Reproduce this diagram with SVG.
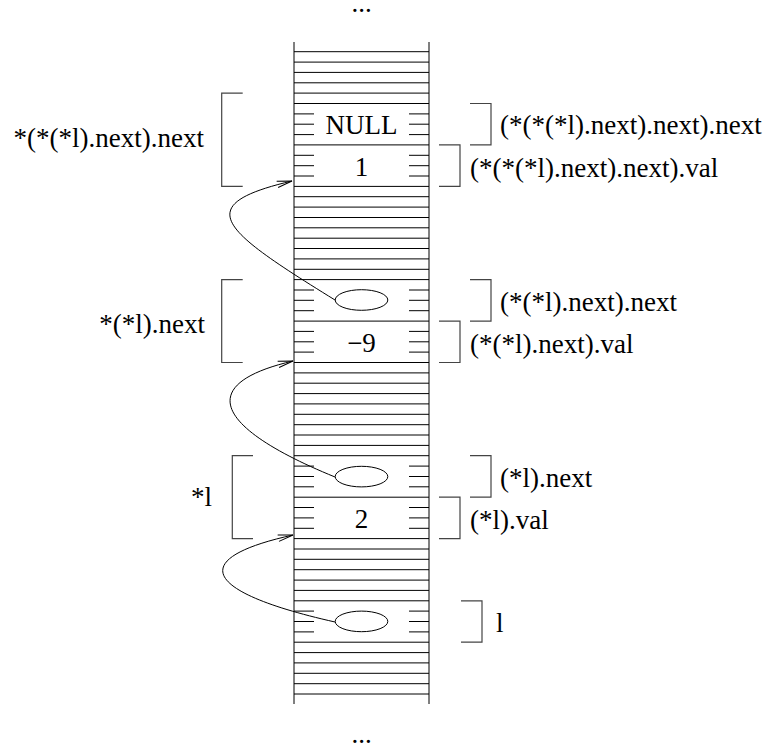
<svg xmlns="http://www.w3.org/2000/svg" width="781" height="752" viewBox="0 0 781 752">
<style>
.ln{stroke:#000;stroke-width:1;fill:none}
.br{stroke:#444;stroke-width:1.2;fill:none}
.t{font-family:"Liberation Serif","Times New Roman",serif;font-size:27px;fill:#000}
.m{text-anchor:middle}
.e{text-anchor:end}
.cv{stroke:#000;stroke-width:1;fill:none;marker-end:url(#ah)}
</style>
<defs>
<marker id="ah" markerUnits="userSpaceOnUse" markerWidth="20" markerHeight="12" viewBox="-16 -6 17 12" refX="0" refY="0" orient="auto">
<path d="M-15,-3.2 L0,0 L-15,3.2" stroke="#000" stroke-width="1" fill="none"/>
</marker>
</defs>
<rect width="781" height="752" fill="#fff"/>

<g id="ellipsis-top"><text class="t m" x="361.5" y="12">...</text></g>
<g id="ellipsis-bottom"><text class="t m" x="361.5" y="743">...</text></g>

<g id="stack">
<line class="ln" x1="294" y1="42" x2="294" y2="704"/>
<line class="ln" x1="429" y1="42" x2="429" y2="704"/>
<path class="ln" d="
M294,51.7H429 M294,62.1H429 M294,72.4H429 M294,82.8H429 M294,93.1H429 M294,103.5H429
M294,144.9H429 M294,186.4H429 M294,196.7H429 M294,207.1H429 M294,217.5H429 M294,227.8H429
M294,238.2H429 M294,248.5H429 M294,258.9H429 M294,269.3H429 M294,279.6H429
M294,321.1H429 M294,362.5H429 M294,372.9H429 M294,383.2H429 M294,393.6H429 M294,403.9H429
M294,414.3H429 M294,424.7H429 M294,435H429 M294,445.4H429 M294,455.7H429
M294,497.2H429 M294,538.6H429 M294,549H429 M294,559.3H429 M294,569.7H429 M294,580.1H429
M294,590.4H429 M294,600.8H429 M294,642.2H429 M294,652.6H429 M294,662.9H429 M294,673.3H429
M294,683.7H429 M294,694H429"/>
</g>

<g id="cell-null">
<path class="ln" d="M294,113.9H314 M294,124.2H314 M294,134.6H314 M409,113.9H429 M409,124.2H429 M409,134.6H429"/>
<text class="t m" x="361.5" y="133.5">NULL</text>
</g>
<g id="cell-1">
<path class="ln" d="M294,155.3H314 M294,165.7H314 M294,176H314 M409,155.3H429 M409,165.7H429 M409,176H429"/>
<text class="t m" x="361.5" y="175.5">1</text>
</g>
<g id="cell-ptr2">
<path class="ln" d="M294,290H314 M294,300.3H314 M294,310.7H314 M409,290H429 M409,300.3H429 M409,310.7H429"/>
<ellipse class="ln" cx="361.5" cy="300" rx="26.3" ry="10.3"/>
</g>
<g id="cell-m9">
<path class="ln" d="M294,331.4H314 M294,341.8H314 M294,352.1H314 M409,331.4H429 M409,341.8H429 M409,352.1H429"/>
<text class="t m" x="361.5" y="352.3">−9</text>
</g>
<g id="cell-ptr1">
<path class="ln" d="M294,466.1H314 M294,476.5H314 M294,486.8H314 M409,466.1H429 M409,476.5H429 M409,486.8H429"/>
<ellipse class="ln" cx="361.5" cy="476.6" rx="26.3" ry="10.3"/>
</g>
<g id="cell-2">
<path class="ln" d="M294,507.5H314 M294,517.9H314 M294,528.3H314 M409,507.5H429 M409,517.9H429 M409,528.3H429"/>
<text class="t m" x="361.5" y="528.3">2</text>
</g>
<g id="cell-l">
<path class="ln" d="M294,611.1H314 M294,621.5H314 M294,631.9H314 M409,611.1H429 M409,621.5H429 M409,631.9H429"/>
<ellipse class="ln" cx="361.5" cy="621.4" rx="26.3" ry="10.3"/>
</g>

<g id="label-struct3">
<path class="br" d="M242.7,93.1H221.7V186.4H242.7"/>
<text class="t e" x="204" y="146.5">*(*(*l).next).next</text>
</g>
<g id="label-struct2">
<path class="br" d="M242.7,279.6H221.7V362.5H242.7"/>
<text class="t e" x="205" y="333">*(*l).next</text>
</g>
<g id="label-struct1">
<path class="br" d="M253,455.7H232.3V538.6H253"/>
<text class="t e" x="212" y="506">*l</text>
</g>

<g id="label-next3">
<path class="br" d="M470,103.5H491V144.9H470"/>
<text class="t" x="500" y="134">(*(*(*l).next).next).next</text>
</g>
<g id="label-val3">
<path class="br" d="M439,144.9H460V186.4H439"/>
<text class="t" x="470" y="176.5">(*(*(*l).next).next).val</text>
</g>
<g id="label-next2">
<path class="br" d="M470,279.6H491V321.1H470"/>
<text class="t" x="500" y="310.5">(*(*l).next).next</text>
</g>
<g id="label-val2">
<path class="br" d="M439,321.1H460V362.5H439"/>
<text class="t" x="470" y="353">(*(*l).next).val</text>
</g>
<g id="label-next1">
<path class="br" d="M470,455.7H491V497.2H470"/>
<text class="t" x="500" y="486.5">(*l).next</text>
</g>
<g id="label-val1">
<path class="br" d="M439,497.2H460V538.6H439"/>
<text class="t" x="470" y="529">(*l).val</text>
</g>
<g id="label-l">
<path class="br" d="M461,600.8H482V642.2H461"/>
<text class="t" x="496" y="631.5">l</text>
</g>

<g id="connectors">
<path class="cv" d="M335,300 C220,229 190,205 292,181"/>
<path class="cv" d="M335,477 C220,430 190,385 293,361"/>
<path class="cv" d="M335,622 C210,594 180,560 293,535"/>
</g>
</svg>
